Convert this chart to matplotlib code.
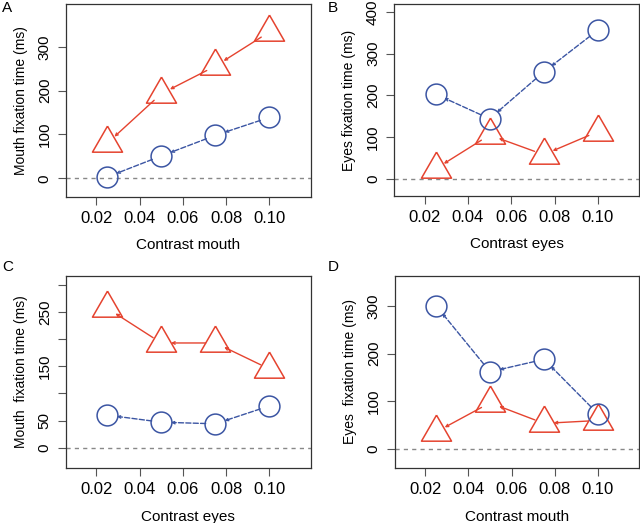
import matplotlib
matplotlib.use('Agg')
import matplotlib.pyplot as plt
import numpy as np

plt.rcParams['font.family'] = ['Liberation Sans', 'DejaVu Sans']

contrast = [0.025, 0.05, 0.075, 0.10]
x_ticks = [0.02, 0.04, 0.06, 0.08, 0.10]
x_tick_labels = ['0.02', '0.04', '0.06', '0.08', '0.10']

# panel A: mouth fixation vs contrast mouth
a_tri = [80, 193, 256, 334]
a_circ = [3, 51, 98, 139]
# panel B: eyes fixation vs contrast eyes
b_circ = [203, 144, 256, 356]
b_tri = [24, 105, 58, 113]
# panel C: mouth fixation vs contrast eyes
c_tri = [257, 193, 193, 145]
c_circ = [60, 47, 44, 77]
# panel D: eyes fixation vs contrast mouth
d_circ = [300, 162, 188, 74]
d_tri = [36, 97, 54, 60]

red = '#e5432f'
blue = '#3b55a3'
tri_marker = [(0, 1), (-0.866, -0.5), (0.866, -0.5), (0, 1)]

fig = plt.figure(figsize=(6.4, 5.23), dpi=100)
W, H = 640, 523


def make_ax(x0, x1, y0, y1):
    return fig.add_axes([x0 / W, 1 - y1 / H, (x1 - x0) / W, (y1 - y0) / H])


def draw_series(ax, ys, color, marker, ls, shrink):
    for i in range(len(ys) - 1):
        ax.annotate('', xy=(contrast[i], ys[i]), xytext=(contrast[i + 1], ys[i + 1]),
                    arrowprops=dict(arrowstyle='->,head_length=0.18,head_width=0.09',
                                    color=color, lw=1.0, linestyle=ls,
                                    shrinkA=shrink, shrinkB=shrink))
    if marker == 'tri':
        ax.plot(contrast, ys, linestyle='none', marker=tri_marker, markersize=25,
                markerfacecolor='none', markeredgecolor=color, markeredgewidth=1.1, zorder=3)
    else:
        ax.plot(contrast, ys, linestyle='none', marker='o', markersize=15,
                markerfacecolor='none', markeredgecolor=color, markeredgewidth=1.1, zorder=3)


def style(ax, ylim, yticks, ylabels, xlabel, ylabel, letter, lx, ly):
    ax.set_xlim(0.0058, 0.1192)
    ax.set_ylim(*ylim)
    ax.axhline(0, color='#888888', lw=1, dashes=(3, 3), zorder=1)
    ax.set_xticks(x_ticks)
    ax.set_xticklabels(x_tick_labels, fontsize=12)
    ax.set_yticks(yticks)
    ax.set_yticklabels(ylabels, fontsize=11, rotation=90, va='center')
    ax.tick_params(direction='out', length=6, width=0.8, color='#555555', pad=4)
    for s in ax.spines.values():
        s.set_color('#333333')
        s.set_linewidth(0.9)
    ax.set_xlabel(xlabel, fontsize=11, labelpad=9)
    ax.set_ylabel(ylabel, fontsize=10, labelpad=7)
    fig.text(lx / W, 1 - ly / H, letter, fontsize=11, ha='left', va='center')


axA = make_ax(65.7, 311, 4.3, 196.7)
draw_series(axA, a_tri, red, 'tri', '-', 7)
draw_series(axA, a_circ, blue, 'circ', '--', 7)
style(axA, (-42, 397), [0, 100, 200, 300], ['0', '100', '200', '300'],
      'Contrast mouth', 'Mouth fixation time (ms)', 'A', 2, 8)

axB = make_ax(394, 639.3, 4.3, 196)
draw_series(axB, b_tri, red, 'tri', '-', 7)
draw_series(axB, b_circ, blue, 'circ', '--', 7)
style(axB, (-41, 418), [0, 100, 200, 300, 400], ['0', '100', '200', '300', '400'],
      'Contrast eyes', 'Eyes fixation time (ms)', 'B', 328, 8)

axC = make_ax(65.7, 311, 275.7, 468.3)
draw_series(axC, c_tri, red, 'tri', '-', 7)
draw_series(axC, c_circ, blue, 'circ', '--', 7)
style(axC, (-38, 317), [0, 50, 100, 150, 200, 250, 300], ['0', '50', '', '150', '', '250', ''],
      'Contrast eyes', 'Mouth  fixation time (ms)', 'C', 2, 267)

axD = make_ax(394.7, 639.3, 275.7, 468.3)
draw_series(axD, d_tri, red, 'tri', '-', 7)
draw_series(axD, d_circ, blue, 'circ', '--', 7)
style(axD, (-40, 363), [0, 100, 200, 300], ['0', '100', '200', '300'],
      'Contrast mouth', 'Eyes  fixation time (ms)', 'D', 328, 267)

fig.savefig('out.png', dpi=100)
